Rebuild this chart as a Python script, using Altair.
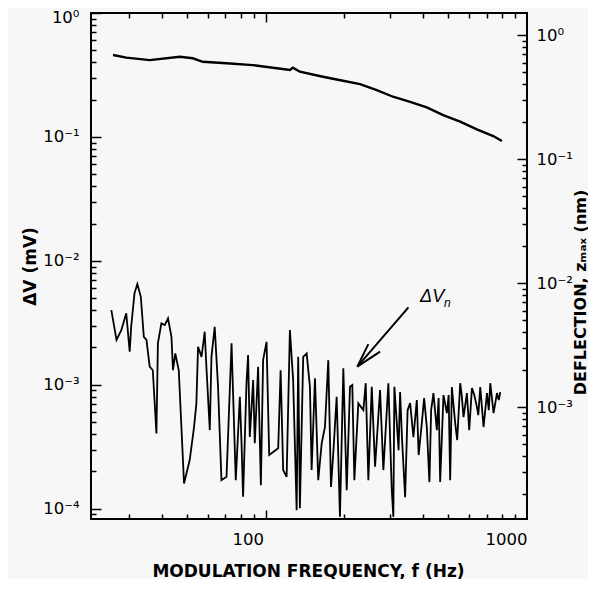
import math
import altair as alt
import pandas as pd

W, H = 436, 506

# upper curve (read against the left axis)
top_f = [26.0, 29.2, 35.9, 46.8, 52.5, 57.3, 70.6, 89.1, 106.4, 123.6, 126.9, 135.0,
         165.4, 197.4, 229.4, 265.9, 306.9, 356.7, 413.4, 477.5, 554.6, 642.7, 742.6, 801.7]
top_v = [0.458, 0.436, 0.417, 0.444, 0.431, 0.404, 0.393, 0.380, 0.362, 0.347, 0.362, 0.336,
         0.306, 0.284, 0.267, 0.239, 0.211, 0.192, 0.173, 0.150, 0.133, 0.115, 0.1017, 0.0927]

# noise spectrum ΔVn
noise_f = [25.6, 26.8, 27.96, 29.2, 30.1, 30.5, 31.4, 32.2, 33.2, 34.1, 34.9, 35.9, 36.9, 38.1,
           38.6, 39.8, 41.0, 42.2, 43.5, 44.1, 45.0, 46.4, 48.6, 51.1, 53.1, 54.2, 55.0, 56.7,
           58.0, 58.3, 59.2, 61.0, 61.9, 63.7, 65.6, 67.6, 70.7, 73.9, 74.9, 76.7, 79.5, 80.7,
           81.8, 84.3, 85.5, 86.8, 89.4, 90.7, 93.4, 95.7, 97.6, 100.6, 103.0, 111.5, 113.9,
           116.5, 120.1, 123.6, 127.2, 131.2, 133.0, 135.0, 139.0, 143.3, 147.5, 149.7, 154.2,
           158.7, 163.6, 168.4, 173.4, 177.6, 181.2, 186.7, 192.2, 198.0, 204.0, 210.0, 214.3,
           218.2, 226.0, 236.2, 241.2, 246.9, 254.4, 261.9, 273.7, 281.8, 294.5, 303.5, 307.8,
           310.6, 317.3, 322.3, 326.6, 332.4, 341.4, 349.0, 356.8, 367.3, 378.5, 384.6, 395.6,
           403.7, 413.4, 423.0, 429.5, 438.3, 451.6, 458.8, 465.0, 478.8, 493.4, 501.2, 507.9,
           515.6, 530.9, 540.4, 554.9, 562.3, 571.3, 588.7, 600.8, 615.3, 628.2, 643.1, 650.8,
           662.2, 681.8, 702.6, 714.0, 723.4, 744.7, 767.4, 779.8, 790.0]
noise_v = [4.01e-3, 2.30e-3, 2.76e-3, 3.77e-3, 1.85e-3, 2.94e-3, 5.47e-3, 6.50e-3, 5.13e-3,
           2.44e-3, 2.30e-3, 1.40e-3, 1.31e-3, 4.05e-4, 2.16e-3, 3.13e-3, 3.03e-3, 3.43e-3,
           2.44e-3, 1.31e-3, 1.79e-3, 1.31e-3, 1.60e-4, 2.47e-4, 4.58e-4, 7.08e-4, 2.03e-3,
           1.68e-3, 2.44e-3, 2.68e-3, 1.40e-3, 4.31e-4, 1.68e-3, 2.94e-3, 9.63e-4, 1.70e-4,
           1.81e-4, 2.16e-3, 8.52e-4, 1.70e-4, 8.00e-4, 3.37e-4, 1.25e-4, 1.03e-3, 1.74e-3,
           3.80e-4, 1.09e-3, 3.37e-4, 1.40e-3, 1.55e-4, 1.58e-3, 2.22e-3, 2.71e-4, 3.07e-4,
           1.31e-3, 2.05e-4, 1.81e-4, 2.76e-3, 1.09e-3, 9.74e-5, 1.68e-3, 1.01e-4, 1.68e-3,
           1.79e-3, 9.63e-4, 2.05e-4, 1.13e-3, 1.70e-4, 3.37e-4, 4.58e-4, 1.58e-3, 1.50e-4,
           2.79e-4, 8.00e-4, 8.60e-5, 1.36e-3, 1.41e-4, 9.63e-4, 9.94e-4, 1.70e-4, 7.08e-4,
           6.25e-4, 1.03e-3, 1.70e-4, 9.63e-4, 2.18e-4, 9.06e-4, 2.05e-4, 1.03e-3, 1.41e-4,
           8.60e-5, 9.63e-4, 4.91e-4, 2.97e-4, 8.73e-4, 3.58e-4, 1.24e-4, 6.25e-4, 7.12e-4,
           3.78e-4, 7.52e-4, 2.71e-4, 4.91e-4, 7.81e-4, 4.56e-4, 1.64e-4, 6.25e-4, 8.57e-4,
           4.31e-4, 7.81e-4, 1.64e-4, 8.26e-4, 5.91e-4, 8.26e-4, 1.70e-4, 9.58e-4, 4.91e-4,
           3.58e-4, 1.03e-3, 8.26e-4, 5.49e-4, 8.57e-4, 4.31e-4, 9.41e-4, 8.26e-4, 6.61e-4,
           5.69e-4, 9.58e-4, 4.56e-4, 8.57e-4, 6.25e-4, 1.03e-3, 5.91e-4, 8.57e-4, 7.52e-4,
           8.73e-4]
assert len(noise_f) == len(noise_v), (len(noise_f), len(noise_v))
assert len(top_f) == len(top_v)

# scale domains (left axis ΔV, right axis deflection)
X_DOM = [21.4, 1000.0]
L_DOM = [8.26e-5, 1.0]
R_DOM = [1.25e-4, 1.505]

# axis tick values
x_labels = [100, 1000]
x_minor = [30, 40, 50, 60, 70, 80, 90, 200, 300, 400, 500, 600, 700, 800, 900]
x_major = [100]
left_major = [1e-4, 1e-3, 1e-2, 1e-1, 1.0]
left_minor = [9e-5] + [k * 10.0 ** e for e in (-4, -3, -2, -1) for k in range(2, 10)]
right_major = [1e-3, 1e-2, 1e-1, 1.0]
right_minor = [k * 10.0 ** e for e in (-4, -3, -2, -1) for k in range(2, 10)]

# annotation arrow (segments) and label anchor
arrow_f1 = [351.5, 224.0, 224.0]
arrow_v1 = [4.21e-3, 1.40e-3, 1.40e-3]
arrow_f2 = [224.0, 246.9, 273.7]
arrow_v2 = [1.40e-3, 2.13e-3, 1.85e-3]
label_f = [389.6]
label_v = [4.65e-3]

FONT = "DejaVu Sans"
xscale = alt.Scale(type="log", domain=X_DOM, nice=False)
lscale = alt.Scale(type="log", domain=L_DOM, nice=False)
rscale = alt.Scale(type="log", domain=R_DOM, nice=False)

ylab = ("datum.value > 0.5 ? '10⁰' : datum.value > 0.05 ? '10⁻¹' : "
        "datum.value > 0.005 ? '10⁻²' : datum.value > 0.0005 ? '10⁻³' : '10⁻⁴'")

COMMON = dict(ticks=False, domain=False, grid=False,
              labelFont=FONT, labelFontSize=16.5, labelColor="black",
              titleFont=FONT, titleFontWeight="bold", titleColor="black",
              titleAlign="center", titleBaseline="middle")

x_axis = alt.Axis(orient="bottom", values=x_labels, format="d", labelPadding=12,
                  labelOffset=alt.condition("datum.value < 500", alt.value(-18), alt.value(0)),
                  title="MODULATION FREQUENCY, f (Hz)", titleFontSize=17, titleX=217,
                  titleY=52, **COMMON)
y_axis = alt.Axis(orient="left", values=left_major, labelExpr=ylab, labelPadding=12,
                  labelOffset=alt.condition("datum.value > 0.5", alt.value(4), alt.value(0)),
                  title="ΔV (mV)", titleFontSize=17, titleX=-61, titleY=253, titleAngle=270,
                  **COMMON)
r_axis = alt.Axis(orient="right", values=right_major, labelExpr=ylab, labelPadding=9,
                  title="DEFLECTION, zₘₐₓ (nm)", titleFontSize=16, titleX=53, titleY=279,
                  titleAngle=270, **COMMON)


def tick_axis(orient, values, size, offset):
    """Tick-only axis moved onto the opposite frame side so its ticks point inward."""
    return alt.Axis(orient=orient, values=values, tickSize=size, ticks=True, labels=False,
                    domain=False, grid=False, title=None, tickColor="black", tickWidth=1.5,
                    offset={"expr": str(offset)})


X = lambda field, axis=x_axis: alt.X(field, type="quantitative", scale=xscale, axis=axis)
YL = lambda field, axis=y_axis: alt.Y(field, type="quantitative", scale=lscale, axis=axis)
YR = lambda field, axis=r_axis: alt.Y(field, type="quantitative", scale=rscale, axis=axis)

df_top = pd.DataFrame({"f": top_f, "v": top_v})
df_noise = pd.DataFrame({"f": noise_f, "v": noise_v})

noise = alt.Chart(df_noise).mark_line(color="black", strokeWidth=1.8).encode(x=X("f"), y=YL("v"))
top = alt.Chart(df_top).mark_line(color="black", strokeWidth=2.4).encode(x=X("f"), y=YL("v"))
arrow = alt.Chart(pd.DataFrame({"f": arrow_f1, "v": arrow_v1, "f2": arrow_f2, "v2": arrow_v2})
                  ).mark_rule(color="black", strokeWidth=2).encode(
    x=X("f"), x2="f2:Q", y=YL("v"), y2="v2:Q")
df_lab = pd.DataFrame({"f": label_f, "v": label_v})
lab1 = alt.Chart(df_lab).mark_text(text="ΔV", font="Liberation Sans", fontSize=18,
                                   fontStyle="italic", align="left", baseline="alphabetic",
                                   color="black").encode(x=X("f"), y=YL("v"))
lab2 = alt.Chart(df_lab).mark_text(text="n", font="Liberation Sans", fontSize=12,
                                   fontStyle="italic", align="left", baseline="alphabetic",
                                   color="black", dx=24, dy=5).encode(x=X("f"), y=YL("v"))

left_group = alt.layer(top, noise, arrow, lab1, lab2)
right_group = alt.Chart(pd.DataFrame({"z": right_major})).mark_point(opacity=0).encode(
    y=YR("z"), x=alt.value(W))

# invisible hosts carrying the inward tick-only axes
host_df = pd.DataFrame({"f": [100.0], "v": [0.01]})
def host(xax, yax, yfun):
    return alt.Chart(host_df).mark_point(opacity=0).encode(x=X("f", xax), y=yfun("v", yax))

hosts = [
    host(tick_axis("top", x_minor, 5, -H), tick_axis("right", left_major, 10, -W), YL),
    host(tick_axis("bottom", x_minor, 5, -H), tick_axis("right", left_minor, 5, -W), YL),
    host(tick_axis("top", x_major, 9, -H), tick_axis("left", right_major, 10, -W), YR),
    host(tick_axis("bottom", x_major, 9, -H), tick_axis("left", right_minor, 5, -W), YR),
]

chart = alt.layer(left_group, right_group, *hosts).resolve_scale(
    y="independent").resolve_axis(x="independent", y="independent").properties(
    width=W, height=H,
    autosize=alt.AutoSizeParams(type="none"),
    padding={"left": 83, "top": 5, "right": 61, "bottom": 60},
    background="#f7f7f7",
).configure_view(stroke="black", strokeWidth=2)

chart.save("out.html", embed_options={"renderer": "svg", "actions": False})
